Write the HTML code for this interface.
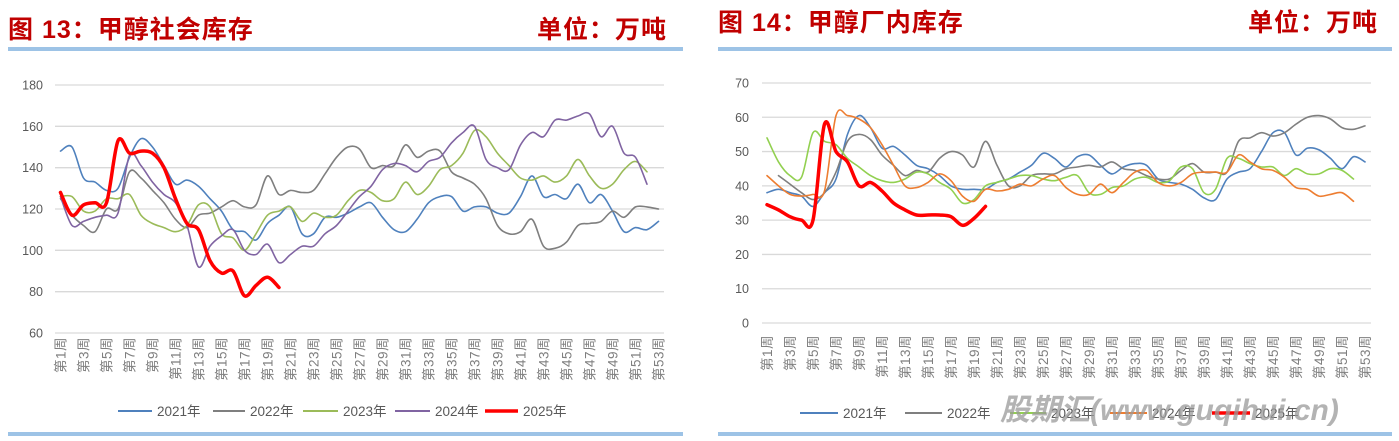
<!DOCTYPE html>
<html><head><meta charset="utf-8">
<style>
html,body{margin:0;padding:0;background:#fff;}
svg{display:block;font-family:"Liberation Sans","Noto Sans CJK SC",sans-serif;}
</style></head>
<body>
<svg id="s" width="1399" height="441" viewBox="0 0 1399 441" xmlns="http://www.w3.org/2000/svg">
<g font-weight="bold" fill="#c00000" font-size="25" letter-spacing="1">
<text x="8" y="38">图 13：甲醇社会库存</text>
<text x="667" y="38" text-anchor="end">单位：万吨</text>
<text x="718" y="31">图 14：甲醇厂内库存</text>
<text x="1378" y="31" text-anchor="end">单位：万吨</text>
</g>
<rect x="8" y="47" width="675" height="4" fill="#9dc3e6"/>
<rect x="718" y="47" width="674" height="4" fill="#9dc3e6"/>
<rect x="8" y="432" width="675" height="4" fill="#9dc3e6"/>
<rect x="718" y="432" width="674" height="4" fill="#9dc3e6"/>
<g id="c"></g>
<text x="1000" y="420" font-size="30" font-weight="bold" font-style="italic" fill="#9a9a9a" fill-opacity="0.75" font-family="'Liberation Sans','Noto Sans CJK SC',sans-serif">股期汇(www.guqihui.cn)</text>
</svg>
<script>
var NS="http://www.w3.org/2000/svg",G=document.getElementById("c");
function el(t,a,txt){var e=document.createElementNS(NS,t);for(var k in a)e.setAttribute(k,a[k]);if(txt!=null)e.textContent=txt;G.appendChild(e);return e;}
function path(pts){var d="M"+pts[0][0].toFixed(1)+","+pts[0][1].toFixed(1);
for(var i=0;i<pts.length-1;i++){var p0=pts[i-1]||pts[i],p1=pts[i],p2=pts[i+1],p3=pts[i+2]||p2;
var c1=[p1[0]+(p2[0]-p0[0])/6,p1[1]+(p2[1]-p0[1])/6],c2=[p2[0]-(p3[0]-p1[0])/6,p2[1]-(p3[1]-p1[1])/6];
d+=" C"+c1[0].toFixed(1)+","+c1[1].toFixed(1)+" "+c2[0].toFixed(1)+","+c2[1].toFixed(1)+" "+p2[0].toFixed(1)+","+p2[1].toFixed(1);}return d;}
function chart(o){
 for(var v=o.min;v<=o.max;v+=o.step){var y=o.y0+(v-o.min)*(o.y1-o.y0)/(o.max-o.min);
  el("line",{x1:o.gx0,x2:o.gx1,y1:y,y2:y,stroke:"#d9d9d9","stroke-width":1.3});
  el("text",{x:o.lx,y:y+4.5,"text-anchor":"end","font-size":12.5,fill:"#595959"},String(v));}
 for(var k=1;k<=53;k+=2){var x=o.x1+(k-1)*o.dx;
  el("text",{transform:"translate("+(x+5)+","+o.ly+") rotate(-90)","text-anchor":"end","font-size":13.5,fill:"#7f7f7f","letter-spacing":0.5},"第"+k+"周");}
 o.series.forEach(function(s){var pts=[];s.d.forEach(function(v,i){if(v!=null){var w=(s.s||1)+i;pts.push([o.x1+(w-1)*o.dx,o.y0+(v-o.min)*(o.y1-o.y0)/(o.max-o.min)]);}});
  el("path",{d:path(pts),fill:"none",stroke:s.c,"stroke-width":s.w||1.6,"stroke-linejoin":"round","stroke-linecap":"round"});});
 o.leg.forEach(function(l,i){var s=o.series[i];el("line",{x1:l[0],x2:l[1],y1:o.legy,y2:o.legy,stroke:s.c,"stroke-width":s.w||2});
  el("text",{x:l[1]+5,y:o.legy+5,"font-size":13.5,fill:"#595959"},s.n);});
}
chart({min:60,max:180,step:20,y0:333,y1:85,gx0:55,gx1:664,lx:43,x1:60.5,dx:11.5,ly:337,legy:411,
series:[
{n:"2021年",c:"#4f81bd",d:[148,150,135,133,129,130,145,154,150,141,132,134,131,125,119,110,109,105,113,117,121,108,108,116,116,118,121,123,116,110,109,115,123,126,126,119,121,121,118,118,126,136,126,127,125,132,123,127,119,109,111,110,114]},
{n:"2022年",c:"#7f7f7f",d:[125,117,112,109,120,120,138,135,129,123,115,111,117,118,121,124,121,122,136,127,129,128,129,137,145,150,149,140,141,141,151,145,148,148,138,135,132,125,112,108,109,115,102,101,104,112,113,114,119,116,121,121,120]},
{n:"2023年",c:"#9bbb59",d:[126,126,119,119,125,125,127,117,113,111,109,112,122,121,108,106,100,108,117,119,121,114,118,116,117,124,129,128,124,125,133,127,131,139,141,147,158,155,147,141,135,134,136,133,136,144,136,130,132,139,143,138]},
{n:"2024年",c:"#8064a2",d:[126,112,114,116,117,118,146,141,133,127,123,112,92,102,107,110,100,98,103,94,98,102,102,108,112,119,126,131,139,142,141,138,143,145,152,157,160,144,140,139,151,157,155,163,163,165,166,155,160,147,145,132]},
{n:"2025年",c:"#ff0000",w:3.5,d:[128,117,122,123,123,153,147,148,147,140,125,113,110,95,89,90,78,83,87,82]}],
leg:[[118,152],[213,245],[303,338],[395,430],[485,518]]});
chart({min:0,max:70,step:10,y0:323,y1:83,gx0:762,gx1:1371,lx:749,x1:767,dx:11.5,ly:335,legy:413,
series:[
{n:"2021年",c:"#4f81bd",d:[38,39,38,37,34,38,42,55,60.5,57,51,51.5,49,46,45,43,40,39,39,39,41,42,44,46,49.5,48,45.5,48.5,49,46,43.5,45.5,46.5,46,42,41,40.5,39,36.5,36,42,44,45,50,55.5,55.5,49,51,50.5,48,45,48.5,47]},
{n:"2022年",c:"#7f7f7f",s:2,d:[43,40.5,38,36,38,44,53,55,53.5,49,46,43,44.5,44,48,50,49,45.5,53,46,40,40,43,43.5,43.5,45,45.5,46,45.5,47,45,44.5,43,42,42,44.5,46.5,44,44,44,53,54,55.5,54.5,55.5,58,60,60.5,59.5,57,56.5,57.5]},
{n:"2023年",c:"#92d050",d:[54,47,43,42.5,55.5,53,52,48,45.5,43,41.5,41,42,44,43.5,41,39,35,36,40,41,42,43,43,42,41.5,42.5,43,38,37.5,39.5,40,42,42.5,41,41.5,45.5,45,38,39,48,48,46.5,45.5,45.5,43,45,43.5,43.5,45,44.5,42]},
{n:"2024年",c:"#ed7d31",d:[43,40,37.5,37,37.5,38.5,60.5,60.5,59.5,57,52,46,40,39.5,41,43.5,41.5,37,35.5,39,38.5,39,40.5,40,42,43,39.5,37.5,37.5,40.5,38,41,44,44.5,41,40,41,43.5,44,44,44,49,47,45,44.5,42.5,39.5,39,37,37.5,38,35.5]},
{n:"2025年",c:"#ff0000",w:3.5,d:[34.5,33,31,30,30,58,50,47,40,41,38.5,35,33,31.5,31.5,31.5,31,28.5,30.5,34]}],
leg:[[800,838],[905,942],[1010,1046],[1110,1147],[1212,1250]]});
</script>
</body></html>
